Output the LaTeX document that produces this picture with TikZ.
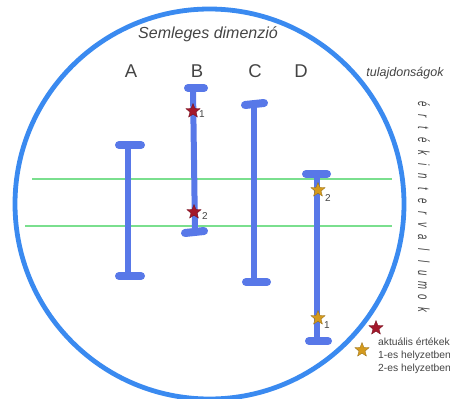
\documentclass[tikz,border=0pt]{standalone}
\usepackage{fontspec}
\usepackage{graphicx}
\setmainfont{Liberation Sans}
\usetikzlibrary{shapes.geometric}
\definecolor{ringblue}{HTML}{3A8AF0}
\definecolor{barblue}{HTML}{5878E8}
\definecolor{lgreen}{HTML}{7ADF8E}
\definecolor{starred}{HTML}{A3182B}
\definecolor{stargold}{HTML}{D49A1E}
\definecolor{txt}{HTML}{444444}
\tikzset{
  bar/.style={barblue,line width=6pt},
  capline/.style={barblue,line width=8pt,line cap=round},
  gline/.style={lgreen,line width=2.2pt},
  mstar/.style={star,star points=5,star point ratio=2.3,minimum size=15pt,inner sep=0pt,draw=#1!70!black,line width=0.3pt,fill=#1},
  idx/.style={text=txt,font=\fontsize{10}{11}\selectfont,inner sep=0pt},
  letter/.style={text=txt,font=\fontsize{18.5}{20}\selectfont},
  vlet/.style={text=txt,rotate=-90,inner sep=0pt,anchor=base,font=\itshape\fontsize{16}{18}\selectfont},
}
\begin{document}
\begin{tikzpicture}[x=1pt,y=-1pt]
\useasboundingbox (0,0) rectangle (450,399);
% ring
\draw[ringblue,line width=4.8pt] (209.5,204) ellipse[x radius=194.5,y radius=195];
% green lines
\draw[gline] (32,179) -- (392,179);
\draw[gline] (25,226) -- (392,226);
% bars
\draw[bar] (128,145) -- (128,276);
\draw[capline] (119,145) -- (141,145);
\draw[capline] (119,276) -- (141,276);
\draw[bar] (193,88) -- (195,232);
\draw[capline] (188,88) -- (204,88);
\draw[capline] (185,233) -- (204,231);
\draw[bar] (254,104) -- (254,282);
\draw[capline] (245,105) -- (264,103);
\draw[capline] (246,282) -- (267,282);
\draw[bar] (317,174) -- (317,341);
\draw[capline] (306,174) -- (327,174);
\draw[capline] (309,341) -- (328,341);
% stars
\node[mstar=starred] (b1) at (193,111) {};
\node[idx,anchor=west] at (199,114) {1};
\node[mstar=starred] (b2) at (194,212) {};
\node[idx,anchor=west] at (202,216) {2};
\node[mstar=stargold] (d2) at (318,190) {};
\node[idx,anchor=west] at (325,198) {2};
\node[mstar=stargold] (d1) at (318,318) {};
\node[idx,anchor=west] at (324,325) {1};
% labels
\node[text=txt,font=\itshape\fontsize{16}{18}\selectfont] (title) at (208,34) {Semleges dimenzió};
\node[letter] (la) at (131,71) {A};
\node[letter] (lb) at (197,71) {B};
\node[letter] (lc) at (255,71) {C};
\node[letter] (ld) at (301,71) {D};
\node[text=txt,font=\itshape\fontsize{12.5}{14}\selectfont] (tul) at (405,73) {tulajdonságok};
% vertical label, letter by letter
\foreach \ch [count=\i from 0] in {é,r,t,é,k,i,n,t,e,r,v,a,l,l,u,m,o,k}
  \node[vlet] (ert\i) at (418,{104+\i*12.1}) {\scalebox{0.6}[1]{\ch}};
% legend
\node[mstar=starred] (ls1) at (376,328) {};
\node[mstar=stargold] (ls2) at (362,350) {};
\node[text=txt,anchor=north west,align=left,inner sep=0pt,font=\fontsize{10.3}{12.8}\selectfont] (leg) at (378,338) {aktuális értékek\\1-es helyzetben\\2-es helyzetben};
\end{tikzpicture}
\end{document}
